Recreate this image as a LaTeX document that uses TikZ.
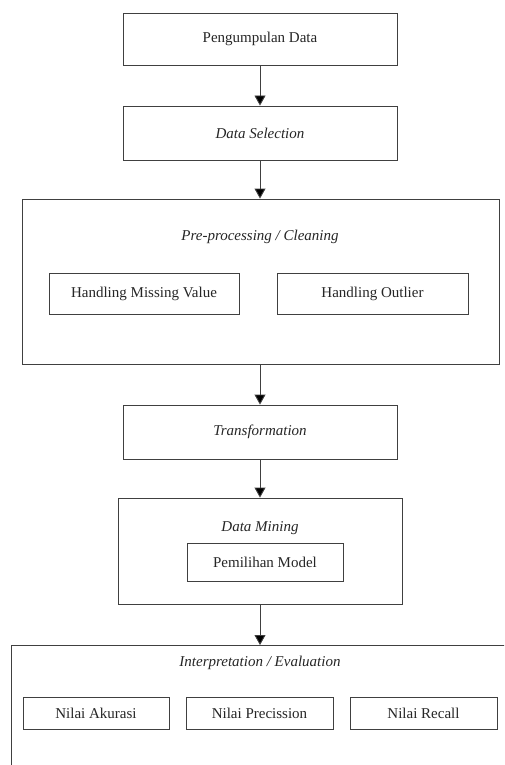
\documentclass[tikz,border=0pt]{standalone}
\usepackage{fontspec}
\setmainfont{Liberation Serif}
\usetikzlibrary{arrows.meta}
\begin{document}
\begin{tikzpicture}[x=1pt,y=-1pt,
  box/.style={draw=black!75,line width=0.9pt,rectangle,inner sep=0pt,font=\fontsize{15}{18}\selectfont,text=black!85},
  lbl/.style={inner sep=0pt,font=\fontsize{15}{18}\selectfont\itshape,text=black!85},
  flow/.style={draw=black!75,line width=0.9pt,-{Triangle[width=11pt,length=10pt,fill=black]}}]
\clip (0,0) rectangle (504,765);
\fill[white] (0,0) rectangle (504,765);
\node[box,minimum width=274,minimum height=52] (b1) at (260,39) {Pengumpulan Data};
\node[box,minimum width=274,minimum height=54] (b2) at (260,133) {\itshape Data Selection};
\node[box,minimum width=477,minimum height=165] (b3) at (260.5,281.5) {};
\node[lbl] (t3) at (260,237) {Pre-processing / Cleaning};
\node[box,minimum width=190,minimum height=41] (hmv) at (144,293.5) {Handling Missing Value};
\node[box,minimum width=191,minimum height=41] (ho) at (372.5,293.5) {Handling Outlier};
\node[box,minimum width=274,minimum height=54] (b4) at (260,432) {\itshape Transformation};
\node[box,minimum width=284,minimum height=106] (b5) at (260,551) {};
\node[lbl] (t5) at (260,528) {Data Mining};
\node[box,minimum width=156,minimum height=38] (pm) at (265,562) {Pemilihan Model};
\node[box,minimum width=520,minimum height=160,anchor=north west] (b6) at (11,645) {};
\node[lbl] (t6) at (260,663) {Interpretation / Evaluation};
\node[box,minimum width=146,minimum height=32] (na) at (96,713) {Nilai Akurasi};
\node[box,minimum width=147,minimum height=32] (np) at (259.5,713) {Nilai Precission};
\node[box,minimum width=147,minimum height=32] (nr) at (423.5,713) {Nilai Recall};
\draw[flow] (b1.south) -- (b2.north);
\draw[flow] (b2.south) -- (b2.south |- b3.north);
\draw[flow] (b4.north |- b3.south) -- (b4.north);
\draw[flow] (b4.south) -- (b5.north);
\draw[flow] (b5.south) -- (b5.south |- b6.north);
\end{tikzpicture}
\end{document}
